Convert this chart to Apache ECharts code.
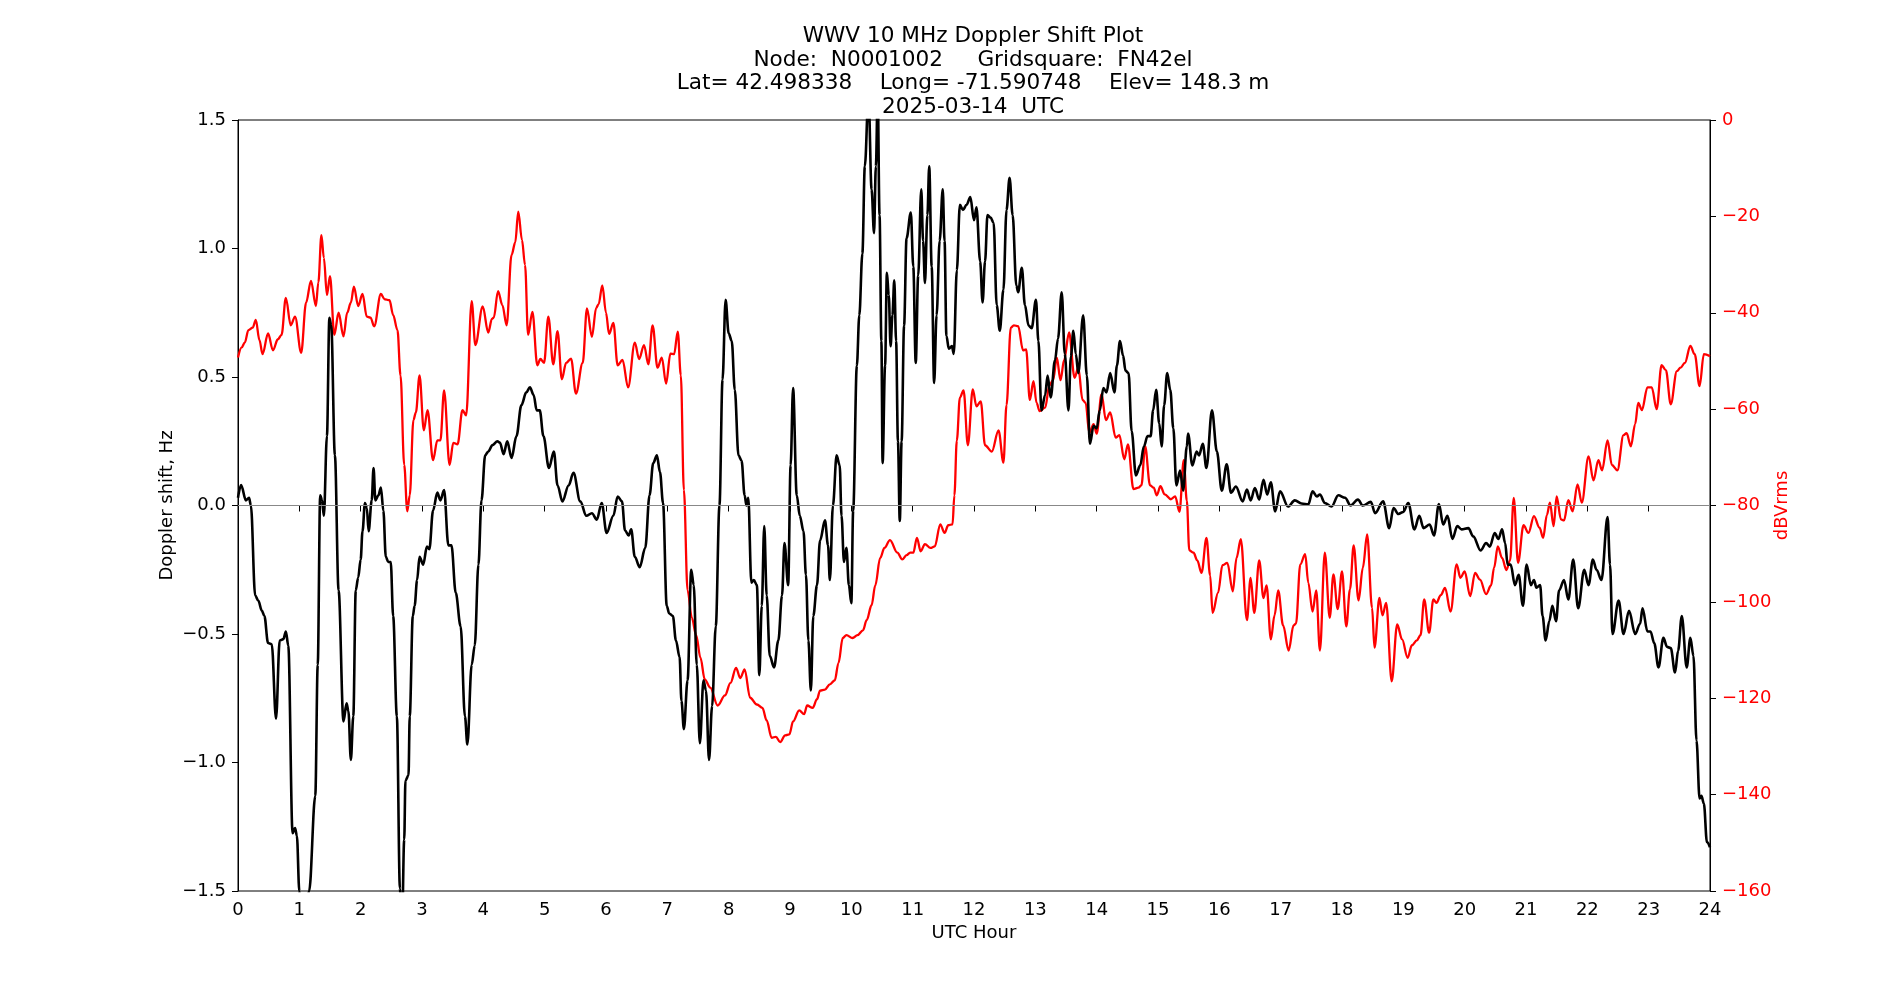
<!DOCTYPE html>
<html>
<head>
<meta charset="UTF-8">
<title>WWV 10 MHz Doppler Shift Plot</title>
<script type="text/javascript" src="https://cdn.jsdelivr.net/npm/echarts/dist/echarts.min.js"></script>
<style>
  body{margin:0;background:#fff}
</style>
</head>
<body>
<div id="main" style="width:1900px;height:1000px"></div>
<script type="text/javascript">
// Doppler shift (Hz), black trace
var dopplerHours = [0.0,0.05,0.13,0.18,0.21,0.28,0.33,0.39,0.43,0.49,0.55,0.62,0.68,0.74,0.78,0.82,0.89,0.93,0.96,1.0,1.05,1.16,1.26,1.30,1.34,1.37,1.40,1.45,1.49,1.52,1.58,1.64,1.72,1.77,1.80,1.84,1.88,1.92,1.96,2.0,2.03,2.07,2.10,2.13,2.18,2.21,2.24,2.29,2.33,2.37,2.41,2.45,2.49,2.53,2.59,2.64,2.67,2.71,2.73,2.78,2.80,2.85,2.88,2.92,2.96,
  3.02,3.08,3.12,3.18,3.25,3.30,3.36,3.43,3.48,3.55,3.63,3.70,3.74,3.81,3.86,3.92,3.97,4.03,4.08,4.15,4.23,4.27,4.33,4.39,4.46,4.54,4.62,4.70,4.76,4.82,4.87,4.92,4.98,5.07,5.15,5.21,5.29,5.39,5.47,5.58,5.68,5.77,5.85,5.93,6.01,
  6.12,6.19,6.26,6.31,6.37,6.41,6.47,6.55,6.64,6.71,6.77,6.83,6.88,6.93,6.99,7.03,7.09,7.14,7.20,7.23,7.27,7.33,7.39,7.43,7.48,7.53,7.59,7.63,7.68,7.73,7.79,7.85,7.90,7.95,8.0,8.05,8.10,8.16,8.21,8.26,8.29,8.32,8.37,8.41,8.46,8.50,8.54,8.58,8.62,8.67,8.74,8.81,8.87,8.91,8.97,9.01,9.05,9.11,9.16,9.22,
  9.26,9.30,9.34,9.38,9.44,9.49,9.57,9.62,9.65,9.70,9.76,9.81,9.84,9.88,9.92,9.96,10.0,10.03,10.09,10.13,10.18,10.22,10.28,10.33,10.37,10.40,10.43,10.46,10.49,10.51,10.55,10.58,10.61,10.64,10.67,10.70,10.73,10.76,10.79,10.82,10.86,10.90,10.97,11.01,11.05,11.09,11.14,11.17,11.20,11.24,11.27,11.31,11.35,11.39,11.44,11.49,11.52,11.55,11.59,11.64,11.67,11.72,11.77,11.82,11.88,11.94,12.0,12.04,12.10,12.14,12.18,12.22,
  12.27,12.32,12.37,12.42,12.48,12.53,12.58,12.63,12.69,12.72,12.78,12.83,12.89,12.94,13.01,13.05,13.10,13.16,13.20,13.25,13.32,13.37,13.43,13.48,13.54,13.58,13.62,13.66,13.70,13.78,13.84,13.89,13.95,14.0,14.05,14.11,14.16,14.22,14.29,14.33,14.38,14.43,14.47,14.52,14.57,14.64,14.71,14.77,14.83,14.88,14.92,14.97,15.02,15.06,15.10,15.15,15.20,15.25,15.30,15.36,15.41,15.47,
  15.49,15.56,15.63,15.67,15.73,15.79,15.88,15.96,16.04,16.12,16.19,16.27,16.38,16.45,16.51,16.58,16.65,16.72,16.78,16.84,16.91,16.99,17.12,17.23,17.34,17.45,17.52,17.59,17.64,17.72,17.83,17.94,18.05,18.14,18.26,18.34,18.47,
  18.54,18.67,18.77,18.84,18.92,19.0,19.08,19.18,19.26,19.33,19.43,19.50,19.58,19.65,19.72,19.80,19.88,19.95,20.06,20.14,20.26,20.35,20.41,20.49,20.55,20.61,20.66,20.70,20.75,20.82,20.88,20.95,21.01,21.08,21.13,21.17,21.23,21.27,21.32,21.38,21.43,21.49,21.54,
  21.62,21.69,21.77,21.85,21.95,22.02,22.09,22.15,22.23,22.33,22.37,22.41,22.51,22.59,22.68,22.78,22.86,22.90,22.98,23.03,23.09,23.16,23.24,23.30,23.36,23.43,23.48,23.54,23.62,23.68,23.73,23.78,23.83,23.86,23.90,23.95,24.0];
var dopplerShift = [0.03,0.08,0.02,0.03,0.0,-0.35,-0.37,-0.41,-0.43,-0.535,-0.54,-0.83,-0.525,-0.52,-0.49,-0.545,-1.275,-1.255,-1.285,-1.5,-1.75,-1.5,-1.13,-0.62,0.04,0.02,-0.04,0.27,0.73,0.70,0.195,-0.33,-0.84,-0.77,-0.80,-0.99,-0.82,-0.33,-0.28,-0.21,-0.10,0.01,-0.01,-0.10,0.02,0.146,0.02,0.04,0.07,-0.02,-0.20,-0.22,-0.22,-0.43,-0.82,-1.49,-1.7,-1.30,-1.07,-1.05,-0.82,-0.43,-0.39,-0.29,-0.20,
  -0.23,-0.16,-0.17,-0.02,0.05,0.02,0.06,-0.155,-0.155,-0.34,-0.47,-0.82,-0.93,-0.62,-0.545,-0.23,0.02,0.195,0.21,0.235,0.25,0.245,0.20,0.25,0.185,0.27,0.39,0.44,0.46,0.43,0.37,0.37,0.27,0.146,0.21,0.078,0.016,0.078,0.127,0.016,-0.04,-0.03,-0.055,0.01,-0.107,
  -0.04,0.035,0.016,-0.097,-0.117,-0.093,-0.20,-0.24,-0.165,0.04,0.165,0.195,0.13,0.01,-0.39,-0.42,-0.43,-0.525,-0.59,-0.76,-0.87,-0.68,-0.25,-0.31,-0.62,-0.925,-0.68,-0.72,-0.99,-0.78,-0.47,0.0,0.49,0.80,0.67,0.64,0.45,0.195,0.175,0.04,0.0,0.03,-0.30,-0.29,-0.31,-0.66,-0.39,-0.08,-0.35,-0.585,-0.63,-0.525,-0.35,-0.146,-0.31,0.156,0.457,0.04,-0.04,-0.10,
  -0.27,-0.525,-0.72,-0.43,-0.31,-0.136,-0.058,-0.155,-0.29,0.0,0.195,0.156,-0.04,-0.22,-0.165,-0.31,-0.38,-0.02,0.545,0.74,0.98,1.32,1.6,1.23,1.06,1.32,1.6,1.13,0.64,0.165,0.545,0.905,0.82,0.62,0.74,0.876,0.64,0.25,-0.06,0.25,0.70,1.04,1.14,0.93,0.555,0.895,1.23,1.03,0.866,1.13,1.32,0.93,0.477,0.74,1.03,1.23,1.03,0.66,0.61,0.62,0.59,0.915,1.17,1.15,1.17,1.20,1.11,1.16,0.95,0.79,0.95,1.13,
  1.12,1.10,0.78,0.68,0.84,1.15,1.275,1.13,0.856,0.83,0.925,0.78,0.70,0.69,0.80,0.64,0.37,0.43,0.506,0.42,0.565,0.65,0.83,0.59,0.37,0.58,0.68,0.59,0.515,0.74,0.506,0.24,0.31,0.30,0.37,0.457,0.44,0.515,0.44,0.545,0.64,0.584,0.525,0.515,0.29,0.117,0.156,0.23,0.27,0.27,0.37,0.45,0.32,0.23,0.39,0.515,0.45,0.30,0.078,0.136,0.058,0.23,
  0.28,0.156,0.21,0.195,0.24,0.146,0.37,0.21,0.058,0.16,0.05,0.074,0.016,0.062,0.02,0.068,0.023,0.10,0.043,0.09,-0.023,0.055,-0.004,0.02,0.008,0.004,0.055,0.035,0.043,0.01,-0.004,0.04,0.03,0.0,0.023,0.0,0.014,
  -0.03,0.016,-0.088,-0.01,-0.033,-0.025,0.01,-0.093,-0.04,-0.088,-0.074,-0.117,0.006,-0.074,-0.04,-0.13,-0.08,-0.093,-0.088,-0.12,-0.175,-0.146,-0.16,-0.107,-0.13,-0.093,-0.146,-0.23,-0.23,-0.31,-0.27,-0.39,-0.23,-0.31,-0.29,-0.32,-0.31,-0.43,-0.525,-0.45,-0.39,-0.45,-0.33,
  -0.29,-0.366,-0.21,-0.40,-0.25,-0.31,-0.21,-0.25,-0.29,-0.045,-0.23,-0.50,-0.37,-0.50,-0.41,-0.50,-0.46,-0.40,-0.49,-0.49,-0.535,-0.63,-0.515,-0.55,-0.555,-0.65,-0.565,-0.43,-0.63,-0.515,-0.585,-0.915,-1.14,-1.13,-1.16,-1.31,-1.33];

// signal level (dBVrms), red trace
var signalHours = [0,0.06,0.11,0.17,0.24,0.29,0.35,0.40,0.49,0.57,0.65,0.71,0.78,0.86,0.93,1.03,1.11,1.19,1.27,1.31,1.36,1.40,1.45,1.50,1.57,1.64,1.72,1.78,1.84,1.89,1.96,2.03,2.10,2.16,2.22,2.33,2.39,2.47,2.53,2.60,2.65,2.71,2.76,2.80,2.86,2.90,2.96,
  3.03,3.09,3.18,3.25,3.30,3.36,3.45,3.51,3.58,3.66,3.72,3.81,3.87,3.99,4.08,4.14,4.17,4.24,4.31,4.38,4.46,4.52,4.57,4.63,4.68,4.73,4.80,4.88,4.93,4.99,5.06,5.14,5.21,5.28,5.35,5.43,5.51,5.62,5.69,5.77,5.84,5.88,5.94,6.0,6.05,
  6.12,6.19,6.27,6.36,6.47,6.54,6.62,6.69,6.76,6.84,6.91,6.98,7.05,7.11,7.17,7.22,7.27,7.33,7.40,7.47,7.54,7.61,7.70,7.82,7.94,8.03,8.12,8.19,8.26,8.35,8.46,8.55,8.62,8.70,8.77,8.84,8.92,8.99,9.05,9.15,9.23,9.28,
  9.37,9.44,9.49,9.57,9.65,9.73,9.79,9.86,9.92,10.02,10.10,10.19,10.25,10.33,10.39,10.47,10.54,10.63,10.75,10.83,10.90,10.96,11.01,11.07,11.13,11.20,11.29,11.36,11.45,11.52,11.58,11.65,11.68,11.72,11.77,11.83,11.90,11.98,12.04,12.11,12.18,12.29,
  12.40,12.48,12.53,12.60,12.65,12.72,12.80,12.85,12.91,12.97,13.02,13.07,13.16,13.23,13.29,13.35,13.41,13.47,13.55,13.64,13.70,13.77,13.82,13.88,13.95,14.0,14.08,14.15,14.22,14.31,14.37,14.45,14.51,14.60,14.68,14.73,14.79,14.87,14.93,14.98,15.04,15.11,15.21,15.28,15.35,15.42,15.47,
  15.51,15.58,15.64,15.71,15.79,15.85,15.89,15.98,16.05,16.13,16.22,16.28,16.35,16.45,16.51,16.57,16.65,16.72,16.77,16.84,16.90,16.96,17.04,17.13,17.21,17.25,17.32,17.40,17.45,17.52,17.58,17.64,17.72,17.80,17.86,17.93,18.0,18.07,18.13,18.19,18.27,18.34,18.41,18.49,18.53,
  18.61,18.66,18.72,18.81,18.90,18.98,19.07,19.14,19.22,19.28,19.34,19.42,19.49,19.54,19.61,19.68,19.77,19.87,19.93,20.0,20.09,20.17,20.25,20.35,20.43,20.48,20.54,20.61,20.68,20.74,20.80,20.87,20.96,21.04,21.13,21.22,21.28,21.34,21.39,21.45,21.50,21.57,
  21.62,21.69,21.76,21.84,21.91,22.02,22.10,22.18,22.24,22.33,22.40,22.49,22.59,22.64,22.71,22.78,22.83,22.89,22.98,23.05,23.13,23.21,23.28,23.36,23.46,23.52,23.59,23.68,23.75,23.83,23.90,24.0];
var signalDb = [-49.3,-47.2,-46.2,-43.6,-43.1,-41.5,-45.7,-48.6,-44.3,-47.8,-45.5,-44.6,-36.9,-42.6,-40.8,-48.3,-37.9,-33.4,-38.6,-33.7,-23.9,-28.6,-36.3,-32.4,-44.6,-40.0,-44.9,-40.0,-37.9,-34.6,-38.6,-36.1,-40.8,-41.0,-42.8,-36.1,-37.2,-37.4,-40.5,-43.6,-53.0,-71.6,-81.2,-77.9,-62.3,-60.7,-53.0,
  -64.4,-60.2,-70.6,-66.5,-66.5,-56.1,-71.6,-67.0,-67.3,-60.2,-61.3,-37.6,-46.7,-38.7,-44.1,-41.3,-41.0,-35.5,-38.4,-42.6,-28.0,-25.4,-19.0,-24.9,-30.1,-44.6,-39.8,-50.9,-49.6,-50.4,-40.8,-50.7,-43.8,-53.8,-50.4,-49.5,-56.8,-50.4,-39.1,-45.0,-39.0,-38.2,-34.3,-40.0,-44.4,
  -42.1,-50.9,-49.8,-55.5,-46.2,-49.6,-46.7,-50.7,-42.6,-51.4,-49.3,-54.7,-48.5,-48.6,-43.9,-53.0,-76.8,-97.6,-103.3,-106.9,-111.6,-116.1,-117.8,-121.5,-119.4,-116.8,-113.7,-115.8,-114.0,-119.9,-121.3,-122.0,-124.6,-128.2,-128.0,-129.1,-127.7,-127.5,-124.8,-122.5,-123.3,-121.5,
  -122.0,-120.2,-118.4,-118.2,-117.1,-116.3,-112.7,-107.5,-106.9,-107.5,-106.9,-105.9,-103.8,-100.7,-96.6,-90.9,-88.8,-87.2,-89.8,-91.2,-90.3,-89.8,-89.8,-86.7,-89.5,-88.0,-88.8,-88.5,-83.9,-85.7,-84.1,-83.9,-77.9,-66.5,-57.6,-56.1,-67.5,-55.9,-59.4,-58.4,-67.5,-68.8,
  -64.4,-71.1,-59.2,-43.1,-42.6,-42.8,-47.8,-47.6,-58.1,-54.2,-58.7,-60.4,-59.7,-55.0,-54.0,-49.3,-54.0,-49.8,-44.1,-53.5,-51.4,-58.1,-58.7,-64.9,-63.1,-65.1,-56.9,-62.3,-60.7,-65.9,-65.4,-70.4,-67.3,-76.6,-76.3,-75.8,-67.7,-75.8,-76.3,-77.9,-76.0,-77.7,-78.7,-78.1,-81.3,-70.6,-79.0,
  -89.3,-89.8,-91.4,-94.0,-86.7,-94.5,-102.3,-98.1,-92.4,-91.9,-97.8,-90.9,-87.0,-103.8,-95.0,-102.3,-91.4,-99.2,-96.6,-107.8,-102.8,-97.6,-104.9,-110.1,-104.9,-104.5,-92.2,-90.1,-96.0,-102.0,-97.6,-110.1,-89.8,-103.3,-94.3,-101.5,-93.7,-105.1,-97.4,-88.3,-99.7,-92.9,-86.0,-101.2,-109.5,
  -99.2,-102.8,-100.2,-116.5,-104.7,-107.8,-111.6,-109.0,-108.0,-106.9,-99.5,-106.4,-99.5,-100.2,-98.6,-97.1,-102.0,-92.2,-95.0,-93.7,-98.8,-94.0,-95.4,-98.4,-96.6,-92.9,-88.5,-90.9,-93.4,-91.4,-78.4,-91.9,-84.1,-85.7,-82.2,-84.6,-86.7,-82.0,-79.4,-84.3,-78.1,-82.9,
  -83.1,-78.9,-81.2,-75.6,-79.4,-69.8,-74.8,-70.6,-72.7,-66.5,-71.6,-72.7,-65.4,-65.0,-67.7,-63.1,-58.7,-60.2,-55.5,-55.5,-60.0,-50.9,-51.9,-59.0,-52.1,-51.4,-50.4,-46.9,-48.6,-55.2,-48.6,-49.0];

var titleLines = [
  'WWV 10 MHz Doppler Shift Plot',
  'Node:  N0001002     Gridsquare:  FN42el',
  'Lat= 42.498338    Long= -71.590748    Elev= 148.3 m',
  '2025-03-14  UTC'
];

function minusFmt(digits) {
  return function (v) {
    return (v < 0 ? '\u2212' : '') + Math.abs(v).toFixed(digits);
  };
}

var myChart = echarts.init(document.getElementById('main'));
var font = 'DejaVu Sans';

var option = {
  animation: false,
  backgroundColor: '#ffffff',
  title: {
    text: titleLines.join('\n'),
    left: 968,
    top: 20,
    textAlign: 'center',
    textStyle: {fontFamily: font, fontSize: 21.6, fontWeight: 'normal', color: '#000', lineHeight: 23.5}
  },
  grid: {left: 238, right: 190, top: 120, bottom: 109, show: true, borderColor: '#000', borderWidth: 1},
  xAxis: {
    type: 'value', min: 0, max: 24, interval: 1,
    name: 'UTC Hour', nameLocation: 'middle', nameGap: 30,
    nameTextStyle: {fontFamily: font, fontSize: 18, color: '#000'},
    axisLine: {lineStyle: {color: '#000'}},
    axisTick: {length: 6, lineStyle: {color: '#000'}},
    axisLabel: {fontFamily: font, fontSize: 18, color: '#000', margin: 10},
    splitLine: {show: false}
  },
  yAxis: [{
    type: 'value', min: -1.5, max: 1.5, interval: 0.5, position: 'left',
    name: 'Doppler shift, Hz', nameLocation: 'middle', nameGap: 62, nameRotate: 90,
    nameMoveOverlap: false,
    nameTextStyle: {fontFamily: font, fontSize: 18, color: '#000'},
    axisLine: {show: true, lineStyle: {color: '#000'}},
    axisTick: {show: true, length: 6, lineStyle: {color: '#000'}},
    axisLabel: {fontFamily: font, fontSize: 18, color: '#000', margin: 12, formatter: minusFmt(1)},
    splitLine: {show: false}
  }, {
    type: 'value', min: -160, max: 0, interval: 20, position: 'right',
    name: 'dBVrms', nameLocation: 'middle', nameGap: 63, nameRotate: 90,
    nameMoveOverlap: false,
    nameTextStyle: {fontFamily: font, fontSize: 18, color: '#ff0000'},
    axisLine: {show: true, lineStyle: {color: '#000'}},
    axisTick: {show: true, length: 6, lineStyle: {color: '#000'}},
    axisLabel: {fontFamily: font, fontSize: 18, color: '#ff0000', margin: 12, formatter: minusFmt(0)},
    splitLine: {show: false}
  }],
  series: [{
    name: 'dBVrms',
    type: 'line',
    yAxisIndex: 1,
    data: signalHours.map(function (h, i) { return [h, signalDb[i]]; }),
    showSymbol: false,
    smooth: 0.35,
    smoothMonotone: 'x',
    lineStyle: {color: '#ff0000', width: 2.3},
    z: 2
  }, {
    name: 'Doppler',
    type: 'line',
    yAxisIndex: 0,
    data: dopplerHours.map(function (h, i) { return [h, dopplerShift[i]]; }),
    showSymbol: false,
    smooth: 0.35,
    smoothMonotone: 'x',
    lineStyle: {color: '#000000', width: 2.6},
    markLine: {
      silent: true,
      symbol: 'none',
      label: {show: false},
      lineStyle: {color: '#888888', width: 1.2, type: 'solid'},
      data: [{yAxis: 0}]
    },
    z: 3
  }]
};

myChart.setOption(option);
</script>
</body>
</html>
